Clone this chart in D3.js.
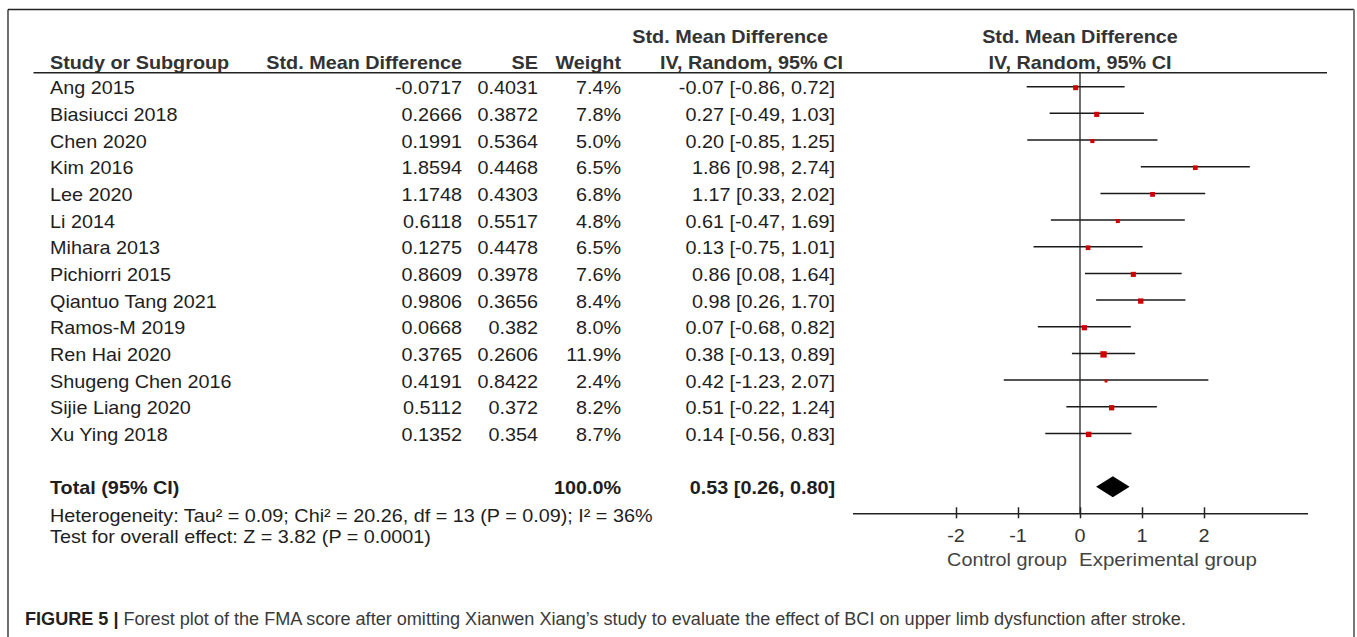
<!DOCTYPE html>
<html><head><meta charset="utf-8">
<script src="https://cdn.jsdelivr.net/npm/d3@7"></script>
<style>html,body{margin:0;padding:0;background:#fff;} svg{display:block;}</style>
</head><body><svg id="c" width="1357" height="637"></svg>
<script>
// ---------- DATA ----------
const studies = ["Ang 2015","Biasiucci 2018","Chen 2020","Kim 2016","Lee 2020","Li 2014","Mihara 2013",
  "Pichiorri 2015","Qiantuo Tang 2021","Ramos-M 2019","Ren Hai 2020","Shugeng Chen 2016","Sijie Liang 2020","Xu Ying 2018"];
const smd = [-0.0717,0.2666,0.1991,1.8594,1.1748,0.6118,0.1275,0.8609,0.9806,0.0668,0.3765,0.4191,0.5112,0.1352];
const se = [0.4031,0.3872,0.5364,0.4468,0.4303,0.5517,0.4478,0.3978,0.3656,0.382,0.2606,0.8422,0.372,0.354];
const weight = [7.4,7.8,5.0,6.5,6.8,4.8,6.5,7.6,8.4,8.0,11.9,2.4,8.2,8.7];
const est = [-0.07,0.27,0.20,1.86,1.17,0.61,0.13,0.86,0.98,0.07,0.38,0.42,0.51,0.14];
const lo = [-0.86,-0.49,-0.85,0.98,0.33,-0.47,-0.75,0.08,0.26,-0.68,-0.13,-1.23,-0.22,-0.56];
const hi = [0.72,1.03,1.25,2.74,2.02,1.69,1.01,1.64,1.70,0.82,0.89,2.07,1.24,0.83];
const totalLabel = "Total (95% CI)";
const totalWeight = 100.0;
const totalEst = 0.53, totalLo = 0.26, totalHi = 0.80;
const tickValues = [-2,-1,0,1,2];
const axisLimit = 3.67;
const heterogeneityText = "Heterogeneity: Tau\u00b2 = 0.09; Chi\u00b2 = 20.26, df = 13 (P = 0.09); I\u00b2 = 36%";
const overallText = "Test for overall effect: Z = 3.82 (P = 0.0001)";
const leftLabel = "Control group", rightLabel = "Experimental group";
const captionBold = "FIGURE 5 | ";
const captionText = "Forest plot of the FMA score after omitting Xianwen Xiang\u2019s study to evaluate the effect of BCI on upper limb dysfunction after stroke.";

// ---------- LAYOUT ----------
const svg = d3.select("#c");
const FONT = "'Liberation Sans', Arial, Helvetica, sans-serif";
const SX = 1.1, FS = 18, INK = "#1e1e1e";
const x = d3.scaleLinear().domain([-axisLimit, axisLimit]).range([1080 - axisLimit*62, 1080 + axisLimit*62]);
const y = d3.scaleLinear().domain([0, 1]).range([86.7, 113.37]);
const baseOff = 7.5;
const f2 = v => v.toFixed(2);

function T(px, py, s, o = {}) {
  return svg.append("text")
    .attr("transform", `translate(${px},${py}) scale(${o.sx || SX},1)`)
    .attr("text-anchor", o.anchor || "start")
    .attr("font-family", FONT)
    .attr("font-size", o.size || FS)
    .attr("font-weight", o.bold ? "bold" : "normal")
    .attr("fill", o.fill || INK)
    .text(s);
}

// frame
svg.append("line").attr("x1", 8).attr("x2", 1354).attr("y1", 9.5).attr("y2", 9.5).attr("stroke", "#222").attr("stroke-width", 1.3);
svg.append("line").attr("x1", 8).attr("x2", 8).attr("y1", 9.5).attr("y2", 637).attr("stroke", "#222").attr("stroke-width", 1.3);
svg.append("line").attr("x1", 1354).attr("x2", 1354).attr("y1", 9.5).attr("y2", 637).attr("stroke", "#777").attr("stroke-width", 2);

// headers
const h1 = 42.5, h2 = 69;
const HC = "#333";
T(50, h2, "Study or Subgroup", {bold: true, fill: HC});
T(462, h2, "Std. Mean Difference", {bold: true, anchor: "end", fill: HC});
T(538, h2, "SE", {bold: true, anchor: "end", fill: HC});
T(621, h2, "Weight", {bold: true, anchor: "end", fill: HC});
T(828, h1, "Std. Mean Difference", {bold: true, anchor: "end", fill: HC});
T(843, h2, "IV, Random, 95% CI", {bold: true, anchor: "end", fill: HC});
T(x(0), h1, "Std. Mean Difference", {bold: true, anchor: "middle", fill: HC});
T(x(0), h2, "IV, Random, 95% CI", {bold: true, anchor: "middle", fill: HC});
svg.append("line").attr("x1", 33.5).attr("x2", 1327).attr("y1", 72.7).attr("y2", 72.7).attr("stroke", "#222").attr("stroke-width", 1.5);

// rows
studies.forEach((s, i) => {
  const by = y(i) + baseOff;
  T(50, by, s);
  T(462, by, String(smd[i]), {anchor: "end"});
  T(538, by, String(se[i]), {anchor: "end"});
  T(621, by, weight[i].toFixed(1) + "%", {anchor: "end"});
  T(835, by, `${f2(est[i])} [${f2(lo[i])}, ${f2(hi[i])}]`, {anchor: "end"});
});

// zero line
const axisY = 513.3;
svg.append("line").attr("x1", x(0)).attr("x2", x(0)).attr("y1", 72.7).attr("y2", axisY).attr("stroke", "#222").attr("stroke-width", 1.3);

// CI lines and markers
const g = svg.append("g");
g.selectAll("line.ci").data(studies).join("line").attr("class", "ci")
  .attr("x1", (d, i) => x(lo[i])).attr("x2", (d, i) => x(hi[i]))
  .attr("y1", (d, i) => y(i)).attr("y2", (d, i) => y(i))
  .attr("stroke", "#1a1a1a").attr("stroke-width", 1.5);
const side = w => 1.84 * Math.sqrt(w);
g.selectAll("rect.m").data(studies).join("rect").attr("class", "m")
  .attr("x", (d, i) => x(est[i]) - side(weight[i]) / 2)
  .attr("y", (d, i) => y(i) + 1 - side(weight[i]) / 2)
  .attr("width", (d, i) => side(weight[i])).attr("height", (d, i) => side(weight[i]))
  .attr("fill", "#d00000");

// total
const ty = y(15);
T(50, ty + baseOff, totalLabel, {bold: true});
T(621, ty + baseOff, totalWeight.toFixed(1) + "%", {bold: true, anchor: "end"});
T(835, ty + baseOff, `${f2(totalEst)} [${f2(totalLo)}, ${f2(totalHi)}]`, {bold: true, anchor: "end"});
const dh = 10.5;
svg.append("path")
  .attr("d", `M${x(totalLo)},${ty}L${x(totalEst)},${ty - dh}L${x(totalHi)},${ty}L${x(totalEst)},${ty + dh}Z`)
  .attr("fill", "#000");

T(50, 522, heterogeneityText);
T(50, 543, overallText);

// axis
const axis = d3.axisBottom(x).tickValues(tickValues).tickSize(0).tickSizeOuter(0).tickPadding(0);
const ag = svg.append("g").attr("transform", `translate(0,${axisY})`).call(axis);
ag.select(".domain").attr("stroke", "#222").attr("stroke-width", 1.5);
ag.selectAll(".tick line").attr("y1", -6).attr("y2", 5).attr("stroke", "#222").attr("stroke-width", 1.5);
ag.selectAll(".tick text").remove();
tickValues.forEach(v => T(x(v), 541.5, String(v), {anchor: "middle", fill: "#333"}));
T(1067, 566, leftLabel, {anchor: "end", fill: "#444"});
T(1079, 566, rightLabel, {fill: "#444", sx: 1.14});

// caption
const cap = svg.append("text").attr("font-family", FONT).attr("font-size", 18.5).attr("fill", "#3a3a3a");
cap.append("tspan").attr("font-weight", "bold").attr("fill", "#231f20").text(captionBold);
cap.append("tspan").text(captionText);
const w0 = cap.node().getComputedTextLength();
cap.attr("transform", `translate(25,624.5) scale(${(1187 - 25) / w0},1)`);
</script></body></html>
